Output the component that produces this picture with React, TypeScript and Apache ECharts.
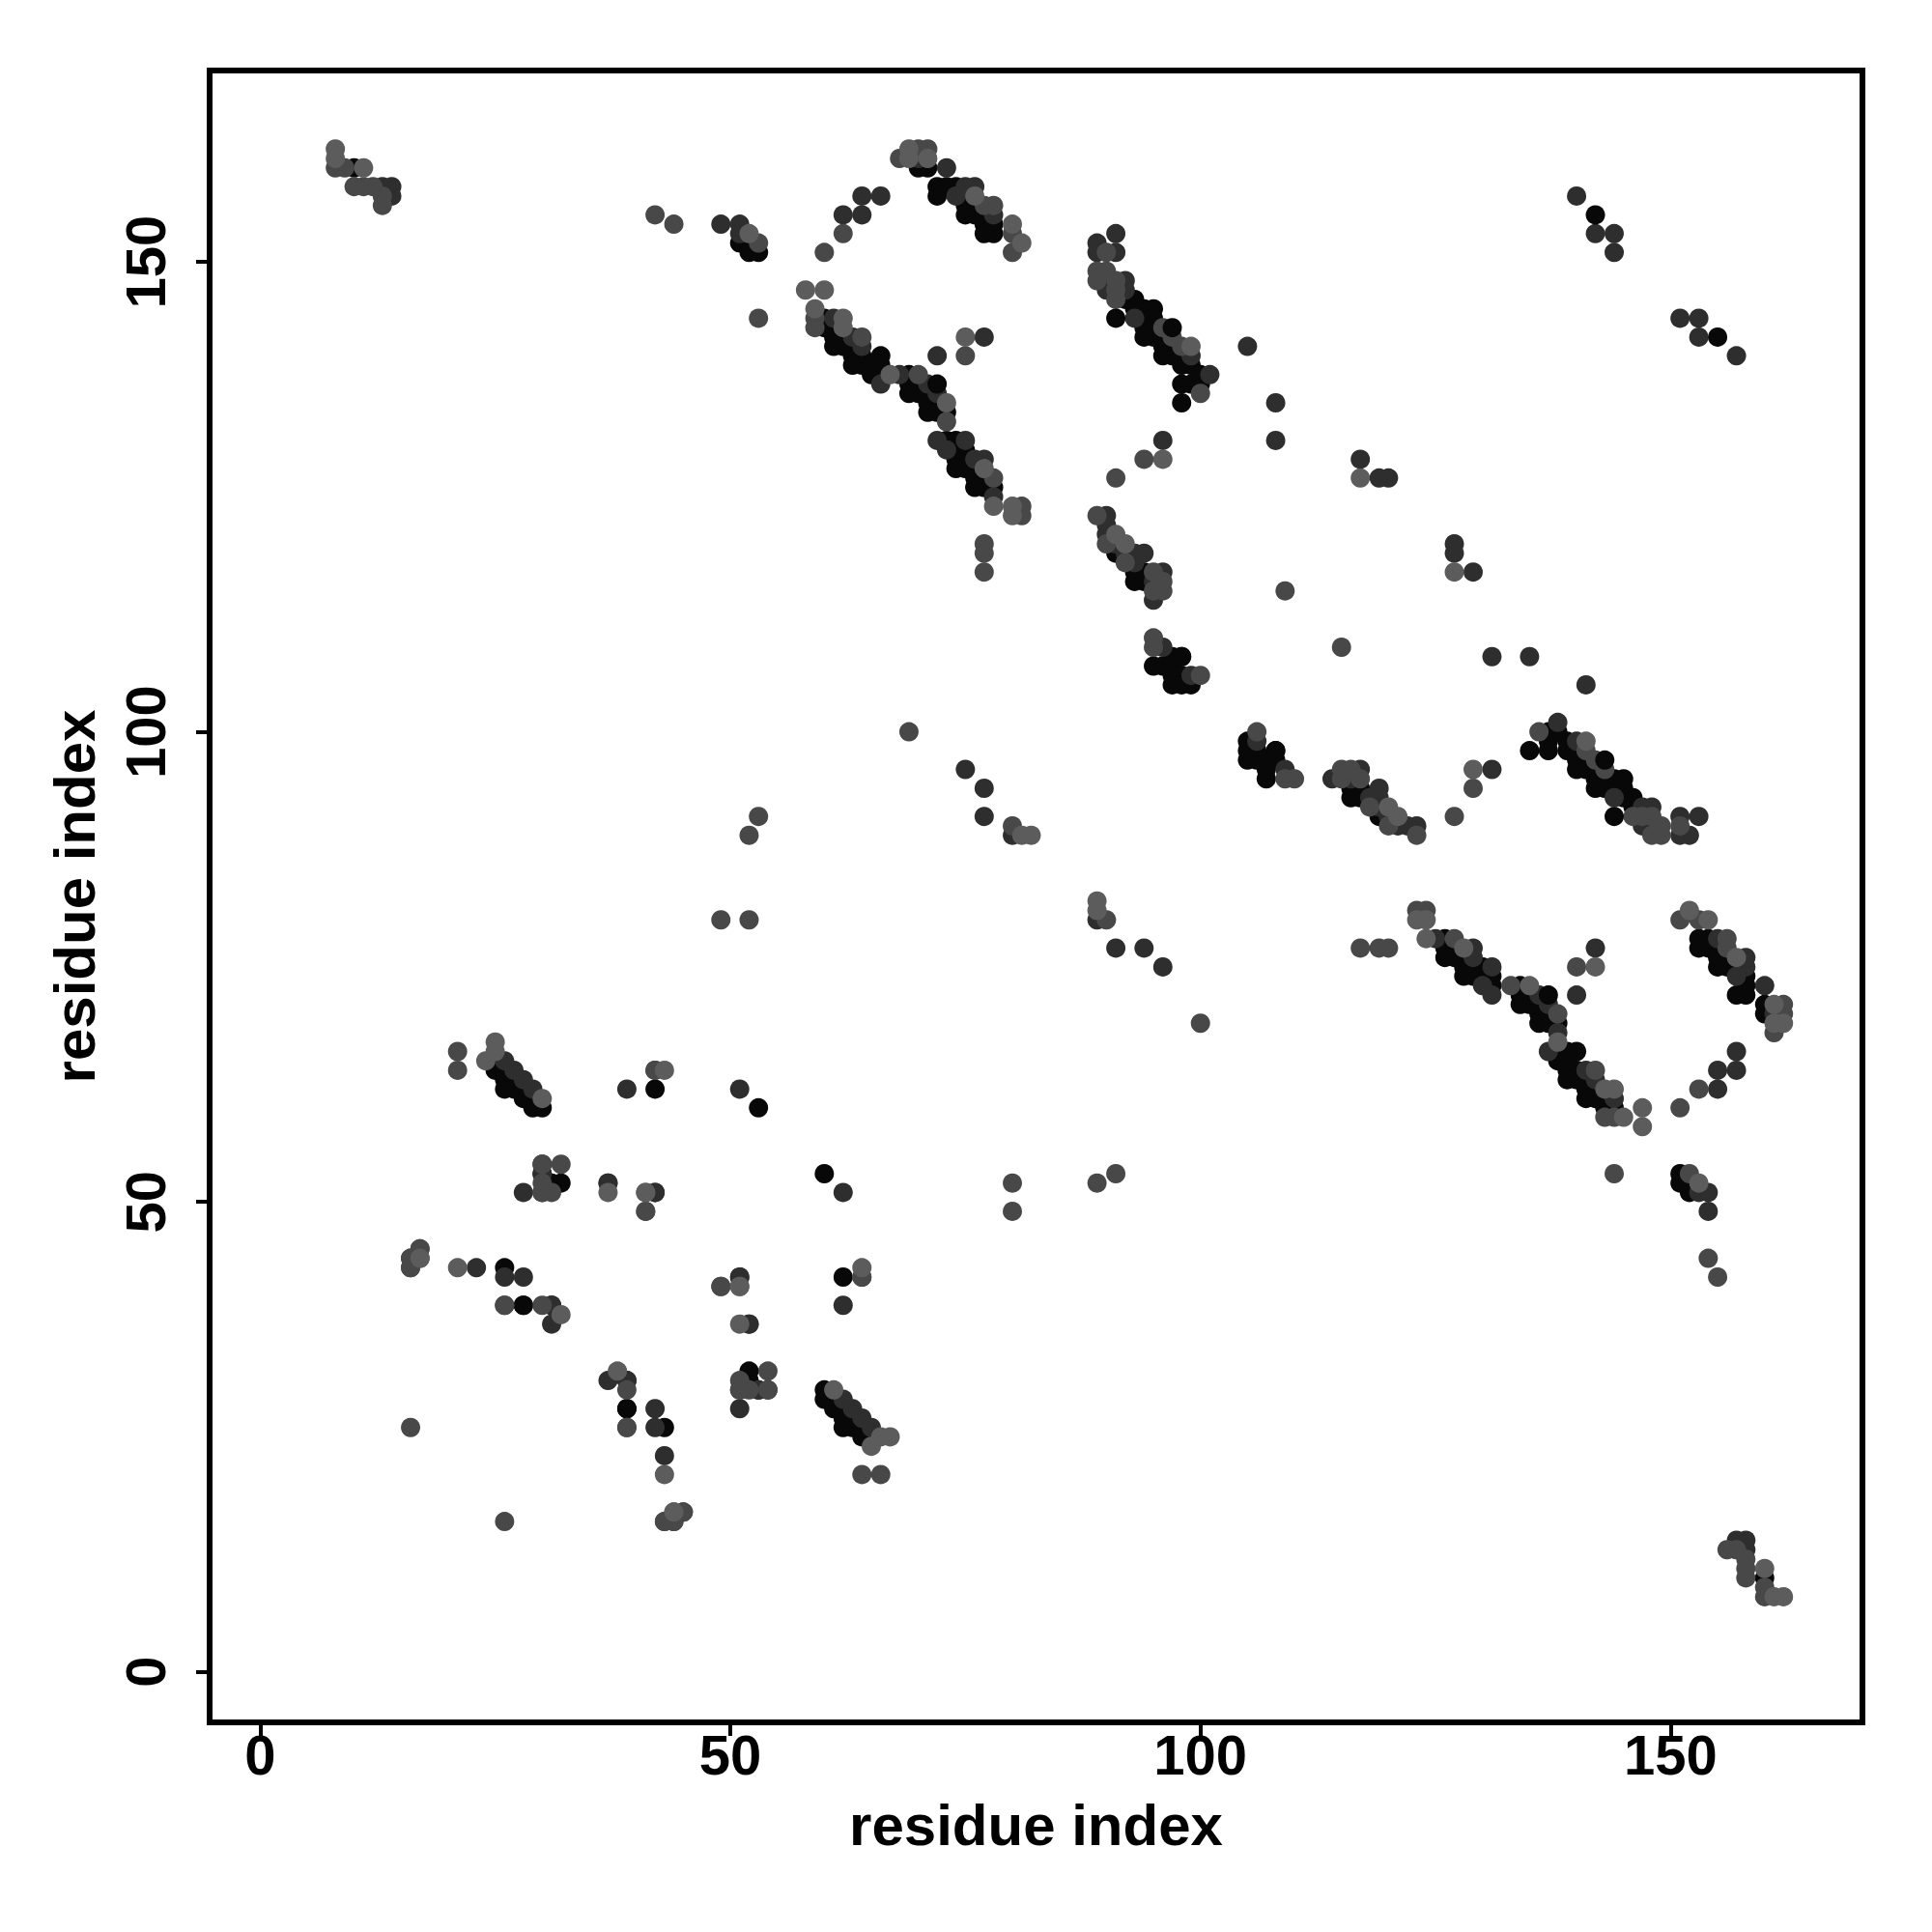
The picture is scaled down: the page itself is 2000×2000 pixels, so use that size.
import React, { useEffect, useRef } from "react";
import * as echarts from "echarts";

type Pair = [number, number];

const axisTicks = [0, 50, 100, 150];
const axisTitle = "residue index";

const contactsBlack: Pair[] = [
  [10,160],[51,152],[52,152],[52,151],[53,151],[70,160],[71,160],[72,158],[73,158],[74,158],[72,157],[75,157],
  [75,156],[76,156],[75,155],[76,155],[77,155],[77,154],[78,154],[77,153],[78,153],[60,144],[60,143],[61,142],
  [61,141],[62,142],[62,141],[63,141],[63,140],[64,140],[63,139],[64,139],[65,139],[66,139],[65,138],[66,138],
  [69,138],[69,137],[69,136],[70,137],[70,136],[71,136],[71,135],[72,135],[71,134],[72,134],[73,134],[73,131],
  [74,131],[74,130],[75,130],[74,129],[75,129],[74,128],[75,128],[76,128],[76,127],[77,127],[76,126],[77,126],
  [78,126],[92,146],[93,146],[93,145],[94,145],[95,145],[94,144],[95,144],[94,143],[95,143],[94,142],[95,142],
  [96,142],[96,141],[97,141],[96,140],[97,140],[98,140],[98,139],[99,139],[100,138],[98,137],[99,137],[100,137],
  [98,135],[94,117],[97,108],[98,108],[95,107],[96,107],[97,107],[97,106],[98,106],[97,105],[98,105],[99,105],
  [25,65],[25,64],[26,64],[26,63],[26,62],[27,63],[28,62],[28,61],[29,61],[29,60],[30,60],[26,43],[28,39],
  [32,52],[31,52],[42,62],[53,60],[39,28],[27,62],[30,53],[31,39],[93,117],[93,116],[94,116],[91,119],
];

const contactsDark: Pair[] = [
  [13,158],[14,158],[14,157],[49,154],[51,153],[70,161],[73,160],[75,158],[76,158],[74,157],[78,155],[61,144],
  [64,157],[62,155],[66,157],[77,142],[72,140],[66,137],[68,138],[71,137],[72,136],[72,131],[75,131],
  [73,130],[76,129],[77,129],[78,125],[63,142],[64,141],[91,153],[91,151],[89,152],[89,151],[92,148],
  [90,148],[92,147],[93,144],[99,140],[101,138],[105,141],[96,131],[108,131],[108,135],[119,127],[120,127],
  [117,129],[90,123],[90,122],[90,121],[91,120],[92,119],[93,119],[94,119],[93,118],
  [96,117],[95,116],[95,114],[96,109],[99,106],[90,147],[75,96],[77,94],[77,91],
  [80,89],[140,157],[144,153],[144,151],[142,153],[39,62],[51,62],[26,42],[28,42],
  [39,31],[37,31],[51,28],[54,30],[53,30],[51,30],[52,37],[51,42],[43,23],[37,52],
  [42,51],[45,17],[29,62],[28,63],[27,64],[26,65],[51,154],[64,155],
];

const contactsMid: Pair[] = [
  [8,160],[9,160],[10,158],[11,158],[12,158],[13,157],[13,156],[42,155],[44,154],[53,152],[53,144],
  [68,161],[70,162],[71,162],[78,156],[77,156],[80,153],[80,151],[62,153],[60,151],[59,144],[59,143],[75,140],
  [64,142],[70,138],[78,127],[81,124],[81,123],[77,120],[77,119],
  [77,117],[89,149],[89,148],[90,149],[91,148],[91,147],[91,146],[98,141],[97,142],[96,143],[100,136],[94,129],
  [91,127],[109,115],[89,123],[90,120],[92,118],[95,117],[95,115],[95,110],[95,109],[100,106],
  [90,151],[80,90],[69,100],[73,133],[16,44],[17,45],[16,43],[16,26],[26,39],[30,39],
  [32,54],[30,52],[31,51],[41,49],[42,64],[49,80],[52,80],[52,89],[53,91],
  [49,41],[64,42],[39,26],[43,16],[44,16],[44,17],[21,66],[21,64],[30,51],[30,54],
  [96,115],[96,116],
];

const contactsLight: Pair[] = [
  [8,162],[8,161],[11,160],[52,153],[69,162],[69,161],[71,161],[80,154],[81,152],[76,157],[58,147],[60,147],
  [59,145],[62,144],[62,143],[67,138],[73,135],[75,142],[77,128],[78,124],[99,141],[96,129],
  [117,127],[91,121],[92,120],[81,89],[82,89],[17,44],[21,43],[41,51],[51,41],
  [37,51],[43,64],[32,38],[25,67],[24,65],[25,66],[30,61],[80,123],[80,124],
];

const contactsOnTop: Pair[] = [[66,140],[72,137],[97,143],[91,144],[142,155],[98,108]];

const shadeBlack = "#080808";
const shadeDark = "#2e2e2e";
const shadeMid = "#484848";
const shadeLight = "#5c5c5c";

const bothTriangles = (list: Pair[]) => list.flatMap(([i, j]) => [[i, j], [j, i]]);

const titleStyle = { color: "#000", fontFamily: "Liberation Sans", fontWeight: "bold", fontSize: 60 };
const axisBase = {
  type: "value",
  min: -5.37,
  splitLine: { show: false },
  axisLine: { show: false, onZero: false },
  axisTick: { show: true, customValues: axisTicks, length: 14, lineStyle: { color: "#000", width: 4 } },
  name: axisTitle,
  nameLocation: "middle",
  nameTextStyle: titleStyle,
};
const labelBase = {
  customValues: axisTicks,
  color: "#000",
  fontFamily: "Liberation Sans",
  fontWeight: "bold",
  fontSize: 58,
};

export default function App() {
  const ref = useRef<HTMLDivElement>(null);
  useEffect(() => {
    const chart = echarts.init(ref.current!, null, { renderer: "svg" });
    const mk = (list: Pair[], color: string) => ({
      type: "scatter",
      data: bothTriangles(list),
      symbol: "circle",
      symbolSize: 20,
      silent: true,
      itemStyle: { color, opacity: 1 },
    });
    chart.setOption({
      animation: false,
      backgroundColor: "#fff",
      grid: { left: 217, top: 73, width: 1711, height: 1710, show: true, borderColor: "#000", borderWidth: 6, backgroundColor: "transparent" },
      xAxis: { ...axisBase, max: 170.4, nameGap: 76, axisLabel: { ...labelBase, margin: 4 } },
      yAxis: { ...axisBase, max: 170.35, nameGap: 110, axisLabel: { ...labelBase, rotate: 90, margin: 38 } },
      series: [
        mk(contactsBlack, shadeBlack),
        mk(contactsDark, shadeDark),
        mk(contactsMid, shadeMid),
        mk(contactsLight, shadeLight),
        mk(contactsOnTop, shadeBlack),
      ],
    });
    return () => chart.dispose();
  }, []);
  return <div ref={ref} style={{ position: "absolute", left: 0, top: 0, width: 2000, height: 2000 }} />;
}
